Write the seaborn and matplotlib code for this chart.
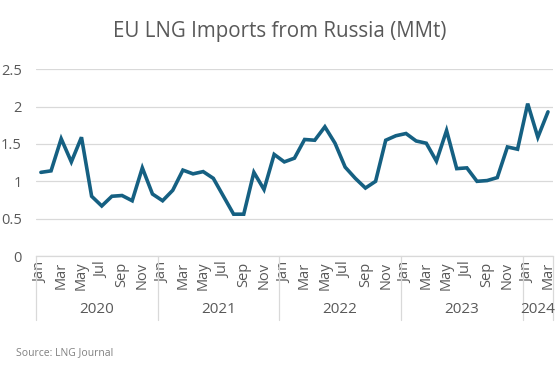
import numpy as np
import pandas as pd
import matplotlib
matplotlib.use("Agg")
import matplotlib.pyplot as plt
import seaborn as sns

# Data (million tonnes, monthly)
years = [2020, 2021, 2022, 2023, 2024]
months_in_year = [12, 12, 12, 12, 3]
month_names = ["Jan", "Feb", "Mar", "Apr", "May", "Jun",
               "Jul", "Aug", "Sep", "Oct", "Nov", "Dec"]
imports_mmt = [
    1.12, 1.14, 1.57, 1.26, 1.59, 0.80, 0.67, 0.80, 0.81, 0.74, 1.18, 0.83,  # 2020
    0.74, 0.88, 1.15, 1.10, 1.13, 1.04, 0.80, 0.56, 0.56, 1.12, 0.89, 1.36,  # 2021
    1.26, 1.31, 1.56, 1.55, 1.73, 1.51, 1.19, 1.04, 0.91, 1.00, 1.55, 1.61,  # 2022
    1.64, 1.54, 1.51, 1.27, 1.68, 1.17, 1.18, 1.00, 1.01, 1.05, 1.46, 1.43,  # 2023
    2.04, 1.59, 1.93,                                                        # 2024
]

# build the category table
rows = []
for yr, n in zip(years, months_in_year):
    for m in range(n):
        rows.append({"year": yr, "month": month_names[m]})
df = pd.DataFrame(rows)
df["idx"] = np.arange(len(df))
df["value"] = imports_mmt

text_grey = "#595959"
grid_grey = "#d9d9d9"
line_col = "#156082"

sns.set_theme(style="white")
plt.rcParams["font.family"] = ["Open Sans", "DejaVu Sans"]

fig = plt.figure(figsize=(5.6, 3.65), dpi=100)
ax = fig.add_axes([0.064, 0.2986, 0.9236, 0.5116])

sns.lineplot(data=df, x="idx", y="value", color=line_col, linewidth=2.6,
             ax=ax, solid_joinstyle="miter")

ax.set_xlim(-0.5, len(df) - 0.5)
ax.set_ylim(0, 2.5)
ax.set_yticks([0, 0.5, 1, 1.5, 2, 2.5])
ax.set_yticklabels(["0", "0.5", "1", "1.5", "2", "2.5"])
ax.yaxis.grid(True, color=grid_grey, linewidth=0.9)
ax.set_axisbelow(True)
for s in ["top", "right", "left"]:
    ax.spines[s].set_visible(False)
ax.spines["bottom"].set_color(grid_grey)
ax.spines["bottom"].set_linewidth(0.9)
ax.tick_params(axis="y", length=0, labelsize=10.5, labelcolor=text_grey, pad=10)

# month labels every other month
sel = df[df["month"].isin(["Jan", "Mar", "May", "Jul", "Sep", "Nov"])]
ax.set_xticks(sel["idx"])
ax.set_xticklabels(sel["month"], rotation=90, fontsize=10.5, color=text_grey)
ax.tick_params(axis="x", length=0, pad=4)
ax.set_xlabel("")
ax.set_ylabel("")

# year groups: separators and labels
start = -0.5
for yr, n in zip(years, months_in_year):
    ax.plot([start, start], [0, -0.343], color=grid_grey, linewidth=0.9,
            transform=ax.get_xaxis_transform(), clip_on=False)
    ax.text(start + n / 2, -0.289, str(yr), transform=ax.get_xaxis_transform(),
            ha="center", va="center", fontsize=11, color=text_grey)
    start += n
ax.plot([start, start], [0, -0.343], color=grid_grey, linewidth=0.9,
        transform=ax.get_xaxis_transform(), clip_on=False)

fig.text(0.5, 0.915, "EU LNG Imports from Russia (MMt)", ha="center", va="center",
         fontsize=14.8, color=text_grey)
fig.text(0.029, 0.035, "Source: LNG Journal", ha="left", va="center",
         fontsize=7.5, color="#808080")

fig.savefig("out.png", dpi=100)
